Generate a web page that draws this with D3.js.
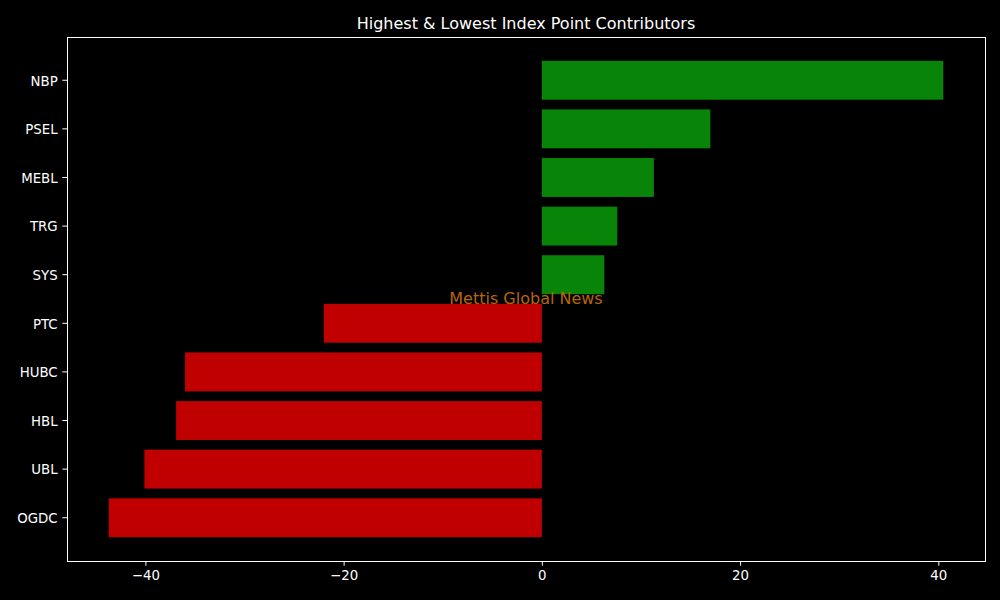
<!DOCTYPE html>
<html>
<head>
<meta charset="utf-8">
<script src="https://cdn.jsdelivr.net/npm/d3@7"></script>
<style>
html,body{margin:0;padding:0;background:#000;}
svg{display:block;}
</style>
</head>
<body>
<svg id="chart" width="1000" height="600"></svg>
<script>
const categories = ["NBP","PSEL","MEBL","TRG","SYS","PTC","HUBC","HBL","UBL","OGDC"];
const values = [40.5, 17.0, 11.3, 7.6, 6.3, -22.0, -36.0, -36.9, -40.1, -43.7];
const xTicks = [-40, -20, 0, 20, 40];
const title = "Highest & Lowest Index Point Contributors";
const watermark = "Mettis Global News";

const W = 1000, H = 600;
const m = {left: 67, right: 15, top: 37, bottom: 39};
const svg = d3.select("#chart");
svg.append("rect").attr("width", W).attr("height", H).attr("fill", "#000");

const minV = d3.min(values), maxV = d3.max(values);
const pad = (maxV - minV) * 0.05;
const x = d3.scaleLinear().domain([minV - pad, maxV + pad]).range([m.left, W - m.right]);
const y = d3.scaleBand().domain(categories).range([m.top, H - m.bottom]).paddingInner(0.2).paddingOuter(0.49);

const font = "'DejaVu Sans', sans-serif";

svg.append("g").selectAll("rect").data(categories).join("rect")
  .attr("x", (d, i) => x(Math.min(0, values[i])))
  .attr("width", (d, i) => Math.abs(x(values[i]) - x(0)))
  .attr("y", d => y(d))
  .attr("height", y.bandwidth())
  .attr("fill", (d, i) => values[i] >= 0 ? "#088408" : "#c00000");

// watermark
svg.append("text")
  .attr("x", (m.left + W - m.right) / 2)
  .attr("y", (m.top + H - m.bottom) / 2)
  .attr("text-anchor", "middle")
  .attr("dominant-baseline", "middle")
  .attr("font-family", font)
  .attr("font-size", "16px")
  .attr("fill", "#b8650a")
  .text(watermark);

// frame
svg.append("rect")
  .attr("x", m.left).attr("y", m.top)
  .attr("width", W - m.right - m.left).attr("height", H - m.bottom - m.top)
  .attr("fill", "none").attr("stroke", "#fff").attr("stroke-width", 1)
  .attr("shape-rendering", "crispEdges");

const xAxis = svg.append("g")
  .attr("transform", `translate(0,${H - m.bottom})`)
  .call(d3.axisBottom(x).tickValues(xTicks).tickSize(4.67).tickPadding(4.67).tickFormat(d => d < 0 ? "\u2212" + Math.abs(d) : d));
const yAxis = svg.append("g")
  .attr("transform", `translate(${m.left},0)`)
  .call(d3.axisLeft(y).tickSize(4.67).tickPadding(4.67));

[xAxis, yAxis].forEach(g => {
  g.select(".domain").remove();
  g.selectAll(".tick line").attr("stroke", "#fff");
  g.selectAll(".tick text").attr("fill", "#fff").attr("font-family", font).attr("font-size", "13.33px");
});
yAxis.selectAll(".tick text").attr("dy", "0.4em");
xAxis.selectAll(".tick text").attr("dy", "0.75em");

svg.append("text")
  .attr("x", (m.left + W - m.right) / 2)
  .attr("y", 29)
  .attr("text-anchor", "middle")
  .attr("font-family", font)
  .attr("font-size", "16px")
  .attr("fill", "#fff")
  .text(title);
</script>
</body>
</html>
